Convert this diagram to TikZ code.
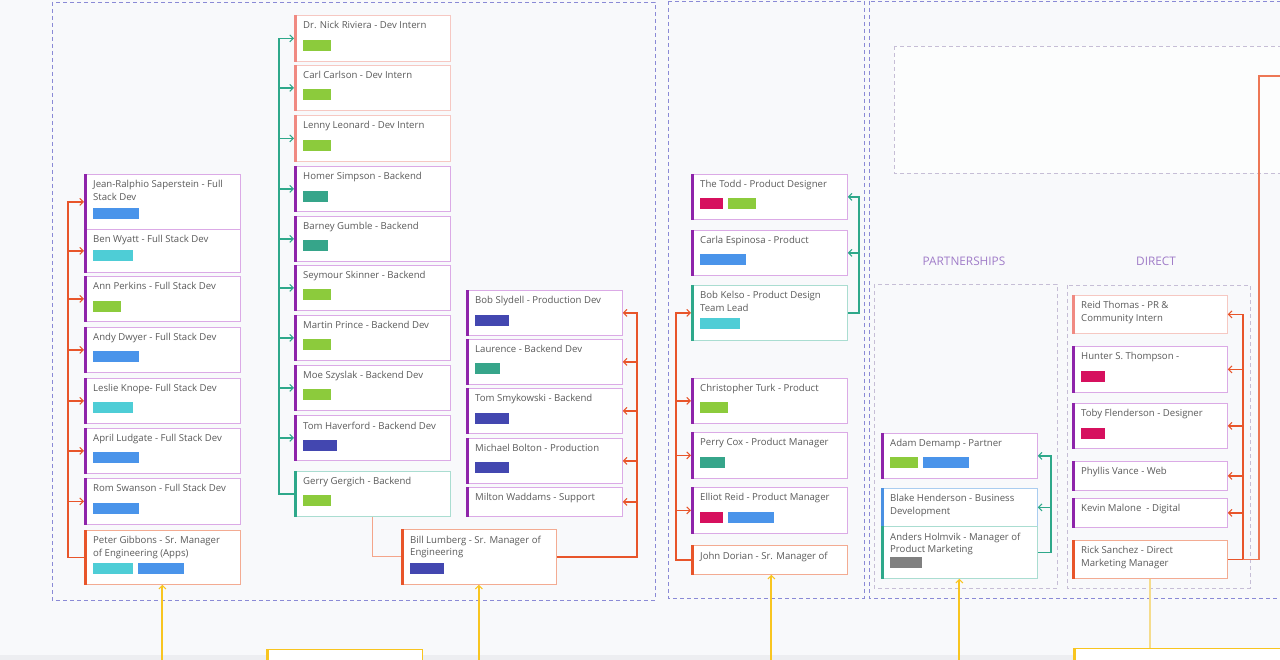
\documentclass[tikz,border=0pt]{standalone}
\usepackage{fontspec}
\setmainfont{Open Sans}
\usetikzlibrary{arrows.meta,calc}
\definecolor{bg}{HTML}{F8F9FB}
\definecolor{strip}{HTML}{EDEEF1}
\definecolor{txt}{HTML}{5A5A5A}
\definecolor{dash}{HTML}{8A8AD6}
\definecolor{dashgray}{HTML}{C6BED6}
\definecolor{lbl}{HTML}{A07CC8}
\definecolor{purborder}{HTML}{DBAAE6}
\definecolor{purbar}{HTML}{8E24AA}
\definecolor{oraborder}{HTML}{F3AB92}
\definecolor{orabar}{HTML}{E8552A}
\definecolor{pnkborder}{HTML}{F6C8C2}
\definecolor{pnkbar}{HTML}{F08A82}
\definecolor{teaborder}{HTML}{AADDD1}
\definecolor{teabar}{HTML}{2EA88A}
\definecolor{bluborder}{HTML}{AACDF0}
\definecolor{blubar}{HTML}{4A90E2}
\definecolor{cblue}{HTML}{4A94EA}
\definecolor{ccyan}{HTML}{4ECDD6}
\definecolor{cgreen}{HTML}{8CCB3C}
\definecolor{cteal}{HTML}{36A58A}
\definecolor{cindigo}{HTML}{4347B0}
\definecolor{cmag}{HTML}{D6105E}
\definecolor{cgray}{HTML}{808080}
\definecolor{corange}{HTML}{E8552A}
\definecolor{cteal2}{HTML}{2EA88A}
\definecolor{cyellow}{HTML}{F8C520}
\definecolor{cyellowl}{HTML}{F5DC8C}
\definecolor{csalmon}{HTML}{F4A58A}
\newcommand\card[7]{%
  \node[cardbox, draw=#6border, minimum width=#4pt, minimum height=#5pt, anchor=north west] (#1) at (#2,#3) {};
  \fill[#6bar] (#1.north west) rectangle ([xshift=3pt]#1.south west);
  \node[cardtext, anchor=north west] (#1-t) at ([xshift=9pt,yshift=-6.5pt]#1.north west) {#7};
}
\newcommand\tagbox[4]{\fill[#4] (#1,#2) rectangle ++(#3,11);}
\begin{document}
\begin{tikzpicture}[x=1pt,y=-1pt,
  cardbox/.style={rectangle, fill=white, line width=0.8pt, inner sep=0pt},
  cardtext/.style={inner sep=0pt, align=left, text=txt, font=\fontsize{9.6}{12.4}\selectfont},
  arr/.tip={Straight Barb[length=3.5pt,width=7pt,line width=1pt]},
  conn/.style={line width=1.4pt},
  oline/.style={conn, draw=corange},
  tline/.style={conn, draw=cteal2},
  yline/.style={line width=2pt, draw=cyellow},
  boxdash/.style={draw=dash, line width=0.8pt, dash pattern=on 4pt off 3pt},
  boxgray/.style={draw=dashgray, line width=0.9pt, dash pattern=on 4pt off 3pt},
  seclabel/.style={text=lbl, font=\fontsize{11.8}{13}\selectfont}]
\useasboundingbox (0,0) rectangle (1280,660);
\clip (0,0) rectangle (1280,660);
\fill[bg] (0,0) rectangle (1280,660);
\fill[strip] (0,655) rectangle (1280,660);
% containers
\draw[boxdash] (52,2) rectangle (655,600);
\draw[boxdash] (668,1) rectangle (864,598);
\draw[boxdash] (869,1) rectangle (1290,598);
\fill[white!60!bg] (894,46) rectangle (1290,173);
\draw[boxgray] (894,46) rectangle (1290,173);
\draw[boxgray] (874,284) rectangle (1057,588);
\draw[boxgray] (1067,285) rectangle (1250,588);
\node[seclabel] (partn) at (964,261) {PARTNERSHIPS};
\node[seclabel] (direct) at (1156,261) {DIRECT};
% column 1
\card{jean}{84}{174}{156}{55}{pur}{Jean-Ralphio Saperstein - Full\\Stack Dev}
\tagbox{93}{208}{46}{cblue}
\card{ben}{84}{229}{156}{43}{pur}{Ben Wyatt - Full Stack Dev}
\tagbox{93}{250}{40}{ccyan}
\card{ann}{84}{276}{156}{45}{pur}{Ann Perkins - Full Stack Dev}
\tagbox{93}{301}{28}{cgreen}
\card{andy}{84}{327}{156}{45}{pur}{Andy Dwyer - Full Stack Dev}
\tagbox{93}{351}{46}{cblue}
\card{leslie}{84}{378}{156}{45}{pur}{Leslie Knope- Full Stack Dev}
\tagbox{93}{402}{40}{ccyan}
\card{april}{84}{428}{156}{45}{pur}{April Ludgate - Full Stack Dev}
\tagbox{93}{452}{46}{cblue}
\card{rom}{84}{478}{156}{46}{pur}{Rom Swanson - Full Stack Dev}
\tagbox{93}{503}{46}{cblue}
\card{peter}{84}{530}{156}{54}{ora}{Peter Gibbons - Sr. Manager\\of Engineering (Apps)}
\tagbox{93}{563}{40}{ccyan}
\tagbox{138}{563}{46}{cblue}
% column 2
\card{nick}{294}{15}{156}{46}{pnk}{Dr. Nick Riviera - Dev Intern}
\tagbox{303}{40}{28}{cgreen}
\card{carl}{294}{65}{156}{45}{pnk}{Carl Carlson - Dev Intern}
\tagbox{303}{89}{28}{cgreen}
\card{lenny}{294}{115}{156}{46}{pnk}{Lenny Leonard - Dev Intern}
\tagbox{303}{140}{28}{cgreen}
\card{homer}{294}{166}{156}{45}{pur}{Homer Simpson - Backend}
\tagbox{303}{191}{25}{cteal}
\card{barney}{294}{216}{156}{45}{pur}{Barney Gumble - Backend}
\tagbox{303}{240}{25}{cteal}
\card{seymour}{294}{265}{156}{45}{pur}{Seymour Skinner - Backend}
\tagbox{303}{289}{28}{cgreen}
\card{martin}{294}{315}{156}{45}{pur}{Martin Prince - Backend Dev}
\tagbox{303}{339}{28}{cgreen}
\card{moe}{294}{365}{156}{45}{pur}{Moe Szyslak - Backend Dev}
\tagbox{303}{389}{28}{cgreen}
\card{tom}{294}{415}{156}{45}{pur}{Tom Haverford - Backend Dev}
\tagbox{303}{440}{34}{cindigo}
\card{gerry}{294}{471}{156}{45}{tea}{Gerry Gergich - Backend}
\tagbox{303}{495}{28}{cgreen}
% column 3
\card{bob}{466}{290}{156}{45}{pur}{Bob Slydell - Production Dev}
\tagbox{475}{315}{34}{cindigo}
\card{laurence}{466}{339}{156}{45}{pur}{Laurence - Backend Dev}
\tagbox{475}{363}{25}{cteal}
\card{smyk}{466}{388}{156}{45}{pur}{Tom Smykowski - Backend}
\tagbox{475}{413}{34}{cindigo}
\card{bolton}{466}{438}{156}{45}{pur}{Michael Bolton - Production}
\tagbox{475}{462}{34}{cindigo}
\card{milton}{466}{487}{156}{29}{pur}{Milton Waddams - Support}
\card{bill}{401}{529}{155}{55}{ora}{Bill Lumberg - Sr. Manager of\\Engineering}
\tagbox{410}{563}{34}{cindigo}
% product column
\card{todd}{691}{174}{156}{45}{pur}{The Todd - Product Designer}
\tagbox{700}{198}{23}{cmag}
\tagbox{728}{198}{28}{cgreen}
\card{carla}{691}{230}{156}{45}{pur}{Carla Espinosa - Product}
\tagbox{700}{254}{46}{cblue}
\card{kelso}{691}{285}{156}{55}{tea}{Bob Kelso - Product Design\\Team Lead}
\tagbox{700}{318}{40}{ccyan}
\card{turk}{691}{378}{156}{45}{pur}{Christopher Turk - Product}
\tagbox{700}{402}{28}{cgreen}
\card{perry}{691}{432}{156}{46}{pur}{Perry Cox - Product Manager}
\tagbox{700}{457}{25}{cteal}
\card{elliot}{691}{487}{156}{46}{pur}{Elliot Reid - Product Manager}
\tagbox{700}{512}{23}{cmag}
\tagbox{728}{512}{46}{cblue}
\card{dorian}{691}{545}{156}{29}{ora}{John Dorian - Sr. Manager of}
% partnerships
\card{adam}{881}{433}{156}{45}{pur}{Adam Demamp - Partner}
\tagbox{890}{457}{28}{cgreen}
\tagbox{923}{457}{46}{cblue}
\card{blake}{881}{488}{156}{38}{blu}{Blake Henderson - Business\\Development}
\card{anders}{881}{526}{156}{52}{tea}{Anders Holmvik - Manager of\\Product Marketing}
\tagbox{890}{557}{32}{cgray}
% direct
\card{reid}{1072}{295}{155}{38}{pnk}{Reid Thomas - PR \&\\Community Intern}
\card{hunter}{1072}{346}{155}{46}{pur}{Hunter S. Thompson -}
\tagbox{1081}{371}{24}{cmag}
\card{toby}{1072}{403}{155}{45}{pur}{Toby Flenderson - Designer}
\tagbox{1081}{428}{24}{cmag}
\card{phyllis}{1072}{461}{155}{29}{pur}{Phyllis Vance - Web}
\card{kevin}{1072}{498}{155}{29}{pur}{Kevin Malone\ \ - Digital}
\card{rick}{1072}{540}{155}{38}{ora}{Rick Sanchez - Direct\\Marketing Manager}
% bottom yellow boxes
\node[cardbox, draw=cyellow, minimum width=156pt, minimum height=20pt, anchor=north west] (yb1) at (266,649) {};
\fill[cyellow] (yb1.north west) rectangle ([xshift=3pt]yb1.south west);
\node[cardbox, draw=cyellow, minimum width=230pt, minimum height=20pt, anchor=north west] (yb2) at (1073,648) {};
\fill[cyellow] (yb2.north west) rectangle ([xshift=3pt]yb2.south west);
% connectors
\draw[oline, -arr] (peter.west) -- ++(-16,0) coordinate (ta) |- (jean.west);
\foreach \n in {ben,ann,andy,leslie,april,rom} \draw[oline, -arr] (ta |- \n.west) -- (\n.west);
\draw[tline, -arr] (gerry.west) -- ++(-15,0) coordinate (tb) |- (nick.west);
\foreach \n in {carl,lenny,homer,barney,seymour,martin,moe,tom} \draw[tline, -arr] (tb |- \n.west) -- (\n.west);
\draw[conn, draw=csalmon, line width=1pt] (gerry.south) |- (bill.west);
\draw[oline, -arr] (bill.east) -- ++(80,0) coordinate (tc) |- (bob.east);
\foreach \n in {laurence,smyk,bolton,milton} \draw[oline, -arr] (tc |- \n.east) -- (\n.east);
\draw[tline, -arr] (kelso.east) -- ++(11,0) coordinate (td) |- (todd.east);
\draw[tline, -arr] (td |- carla.east) -- (carla.east);
\draw[oline, -arr] (dorian.west) -- ++(-15,0) coordinate (te) |- (kelso.west);
\foreach \n in {turk,perry,elliot} \draw[oline, -arr] (te |- \n.west) -- (\n.west);
\draw[tline, -arr] (anders.east) -- ++(13,0) coordinate (tf) |- (adam.east);
\draw[tline, -arr] (tf |- blake.east) -- (blake.east);
\draw[oline, -arr] (rick.east) -- ++(15,0) coordinate (tg) |- (reid.east);
\foreach \n in {hunter,toby,phyllis,kevin} \draw[oline, -arr] (tg |- \n.east) -- (\n.east);
\coordinate (offr) at (1295,76);
\draw[conn, draw=corange!80!white] (tg) -- ++(16,0) |- (offr);
% yellow
\coordinate (y1) at ([yshift=-80pt]peter.south);
\coordinate (y2) at ([yshift=-80pt]bill.south);
\coordinate (y3) at ([xshift=2pt,yshift=-90pt]dorian.south);
\coordinate (y4) at ([yshift=-90pt]anders.south);
\draw[yline, -arr] (y1) -- (peter.south);
\draw[yline, -arr] (y2) -- (bill.south);
\draw[yline, -arr] (y3) -- (y3 |- dorian.south);
\draw[yline, -arr] (y4) -- (anders.south);
\draw[line width=1.2pt, draw=cyellowl] (rick.south) -- (rick.south |- yb2.north);
\end{tikzpicture}
\end{document}
